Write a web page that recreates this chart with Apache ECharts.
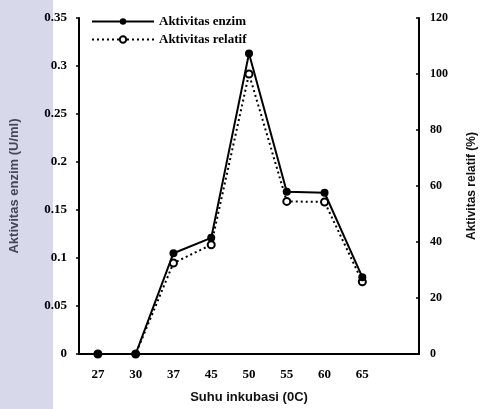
<!DOCTYPE html>
<html>
<head>
<meta charset="utf-8">
<script src="https://cdn.jsdelivr.net/npm/echarts@6/dist/echarts.min.js"></script>
<style>
  html, body { margin: 0; padding: 0; background: #ffffff; }
  #chart { width: 486px; height: 409px; }
</style>
</head>
<body>
<div id="chart"></div>
<script>
// Incubation temperatures (last slot left empty, as on the printed axis)
var suhu = ['27', '30', '37', '45', '50', '55', '60', '65', ''];
// Enzyme activity (U/ml)
var aktivitasEnzim = [0, 0, 0.105, 0.121, 0.313, 0.169, 0.168, 0.080];
// Relative activity (%)
var aktivitasRelatif = [0, 0, 32.5, 39, 100, 54.5, 54.3, 25.8];
var ticksKiri = [0, 0.05, 0.1, 0.15, 0.2, 0.25, 0.3, 0.35];
var ticksKanan = [0, 20, 40, 60, 80, 100, 120];

var serif = '"Liberation Serif", "DejaVu Serif", serif';
var sans = '"Liberation Sans", Arial, sans-serif';

var chart = echarts.init(document.getElementById('chart'), null, { renderer: 'canvas' });

chart.setOption({
  animation: false,
  backgroundColor: '#ffffff',
  graphic: [{
    type: 'rect',
    left: 0, top: 0, z: -10,
    shape: { width: 53, height: 409 },
    style: { fill: '#d7d9eb' }
  }],
  grid: { left: 77, right: 62, top: 18, bottom: 53 },
  legend: {
    orient: 'vertical',
    left: 86,
    top: 10,
    itemWidth: 62,
    itemHeight: 8,
    itemGap: 5,
    textStyle: { fontFamily: serif, fontWeight: 'bold', fontSize: 13, color: '#000' },
    data: ['Aktivitas enzim', 'Aktivitas relatif']
  },
  xAxis: {
    type: 'category',
    data: suhu,
    boundaryGap: true,
    name: 'Suhu inkubasi (0C)',
    nameLocation: 'middle',
    nameGap: 37,
    nameTextStyle: { fontFamily: sans, fontWeight: 'bold', fontSize: 13, color: '#111' },
    axisLine: { lineStyle: { color: '#000', width: 2 } },
    axisTick: { inside: true, length: 3, lineStyle: { color: '#000', width: 1.5 } },
    axisLabel: { fontFamily: serif, fontWeight: 'bold', fontSize: 13, color: '#000', margin: 14 },
    splitLine: { show: false }
  },
  yAxis: [{
    type: 'value',
    min: ticksKiri[0],
    max: ticksKiri[ticksKiri.length - 1],
    interval: 0.05,
    name: 'Aktivitas enzim (U/ml)',
    nameLocation: 'middle',
    nameGap: 58,
    nameTextStyle: { fontFamily: sans, fontWeight: 'bold', fontSize: 13, color: '#44465a' },
    axisLine: { show: true, lineStyle: { color: '#000', width: 2 } },
    axisTick: { show: true, length: 3, lineStyle: { color: '#000', width: 1.5 } },
    axisLabel: { fontFamily: serif, fontWeight: 'bold', fontSize: 13, color: '#000', margin: 12 },
    splitLine: { show: false }
  }, {
    type: 'value',
    min: ticksKanan[0],
    max: ticksKanan[ticksKanan.length - 1],
    interval: 20,
    position: 'right',
    name: 'Aktivitas relatif (%)',
    nameLocation: 'middle',
    nameGap: 47,
    nameRotate: 90,
    nameTextStyle: { fontFamily: sans, fontWeight: 'bold', fontSize: 12, color: '#111' },
    axisLine: { show: true, lineStyle: { color: '#000', width: 2 } },
    axisTick: { show: true, inside: true, length: 3, lineStyle: { color: '#000', width: 1.5 } },
    axisLabel: { fontFamily: serif, fontWeight: 'bold', fontSize: 12, color: '#000', margin: 11 },
    splitLine: { show: false }
  }],
  series: [{
    name: 'Aktivitas enzim',
    type: 'line',
    yAxisIndex: 0,
    data: aktivitasEnzim,
    symbol: 'circle',
    symbolSize: 8,
    z: 3,
    itemStyle: { color: '#000' },
    lineStyle: { color: '#000', width: 2 }
  }, {
    name: 'Aktivitas relatif',
    type: 'line',
    yAxisIndex: 1,
    data: aktivitasRelatif,
    symbol: 'circle',
    symbolSize: 7,
    z: 2,
    itemStyle: { color: '#ffffff', borderColor: '#000', borderWidth: 2 },
    lineStyle: { color: '#000', width: 2, type: [2, 3] }
  }]
});
</script>
</body>
</html>
